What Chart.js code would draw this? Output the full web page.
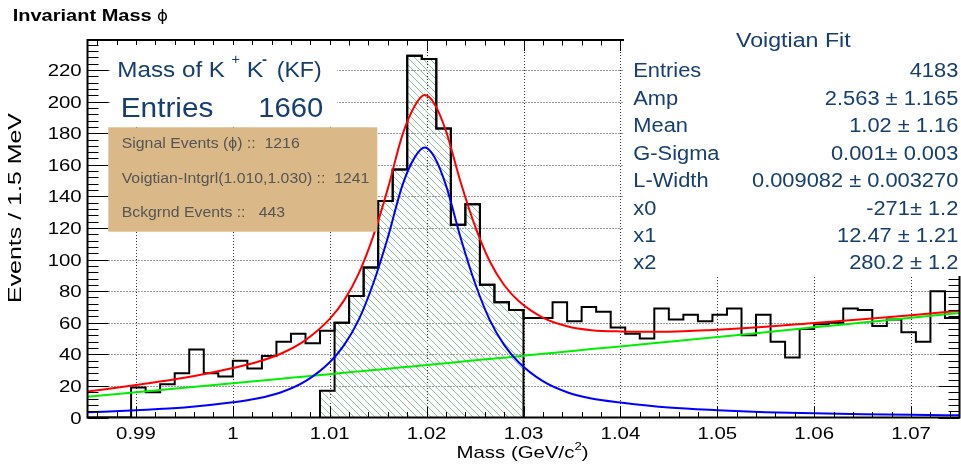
<!DOCTYPE html>
<html>
<head>
<meta charset="utf-8">
<script src="https://cdn.jsdelivr.net/npm/chart.js@4.4.1/dist/chart.umd.min.js"></script>
<style>
  html, body { margin: 0; padding: 0; background: #fff; }
</style>
</head>
<body>
<canvas id="canvas" width="961" height="464"></canvas>
<script>
// histogram, 60 bins of 1.5 MeV between 0.985 and 1.075 GeV
const binLow = 0.985;
const binWidth = 0.0015;
const counts = [0, 0, 0, 19, 16, 21, 28, 43, 28, 26,
  36, 31, 39, 48, 53, 47, 55, 60, 77, 95,
  137, 157, 229, 227, 183, 122, 135, 84, 73, 68,
  63, 63, 73, 61, 70, 67, 57, 53, 50, 69,
  62, 65, 61, 65, 69, 52, 65, 48, 38, 56,
  59, 60, 69, 68, 58, 62, 54, 48, 80, 63];

// hatched signal window 1.010 - 1.030 (first bin only partly inside)
const sigLow = 1.009;
const sigCounts = [17, 60, 77, 95, 137, 157, 229, 227, 183, 122, 135, 84, 73, 68];

// fit curves
const curveMass = [0.985, 0.99, 0.995, 1.000, 1.0025, 1.005, 1.0075, 1.010, 1.0115, 1.013, 1.0145,
  1.016, 1.0175, 1.0188, 1.0198, 1.0208, 1.022, 1.0235, 1.025, 1.0265, 1.028, 1.0295,
  1.032, 1.0345, 1.037, 1.040, 1.045, 1.050, 1.055, 1.060, 1.065, 1.070, 1.075];
const totalFit = [16.4, 20.6, 25.1, 31.3, 35.1, 40.5, 49.0, 62.4, 74.3, 91.2, 115.0,
  144.9, 178.8, 197.5, 204.1, 198.7, 181.4, 149.3, 121.2, 99.1, 83.9, 73.8,
  63.3, 57.8, 55.3, 54.5, 54.3, 55.6, 57.4, 59.8, 62.2, 64.8, 67.6];
const signalFit = [3.3, 4.6, 6.3, 9.6, 12, 16, 23, 35, 46, 62, 85,
  114, 147, 165, 171, 165, 147, 114, 85, 62, 46, 35,
  23, 16, 12, 9.5, 6.3, 4.6, 3.4, 2.7, 2.1, 1.7, 1.4];
const bkgFit = [13.1, 16.0, 18.8, 21.7, 23.1, 24.5, 26.0, 27.4, 28.3, 29.2, 30.0,
  30.9, 31.8, 32.5, 33.1, 33.7, 34.4, 35.3, 36.2, 37.1, 37.9, 38.8,
  40.3, 41.8, 43.3, 45.0, 48.0, 51.0, 54.0, 57.1, 60.1, 63.1, 66.2];

const xTicks = [0.99, 1.00, 1.01, 1.02, 1.03, 1.04, 1.05, 1.06, 1.07];
const xTickLabels = ["0.99", "1", "1.01", "1.02", "1.03", "1.04", "1.05", "1.06", "1.07"];
const yTicks = [0, 20, 40, 60, 80, 100, 120, 140, 160, 180, 200, 220];

const fitNames = ["Entries", "Amp", "Mean", "G-Sigma", "L-Width", "x0", "x1", "x2"];
const fitValues = ["4183", "2.563 \u00b1 1.165", "1.02 \u00b1 1.16", "0.001\u00b1 0.003",
  "0.009082 \u00b1 0.003270", "-271\u00b1 1.2", "12.47 \u00b1 1.21", "280.2 \u00b1 1.2"];
const boxLines = ["Signal Events (\u03d5) ::  1216", "Voigtian-Intgrl(1.010,1.030) ::  1241", "Bckgrnd Events ::   443"];

function histPoints(low, w, arr) {
  let pts = arr.map((v, i) => ({ x: low + i * w, y: v }));
  pts.push({ x: low + arr.length * w, y: arr[arr.length - 1] });
  return pts;
}
function curve(ys) {
  return curveMass.map((m, i) => ({ x: m, y: ys[i] }));
}

const canvas = document.getElementById('canvas');
const c2 = canvas.getContext('2d');

function hatch() {
  let t = document.createElement('canvas');
  t.width = 7; t.height = 7;
  let g = t.getContext('2d');
  g.strokeStyle = '#86c4a2';
  g.lineWidth = 1;
  g.beginPath();
  g.moveTo(-1, -1); g.lineTo(8, 8);
  g.moveTo(-1, 6); g.lineTo(1, 8);
  g.moveTo(6, -1); g.lineTo(8, 1);
  g.stroke();
  return c2.createPattern(t, 'repeat');
}

let sigPts = [{ x: sigLow, y: 0 }].concat(histPoints(sigLow, binWidth, sigCounts));
sigPts.push({ x: sigLow + sigCounts.length * binWidth, y: 0 });

const FONT = '"Liberation Sans", Arial, sans-serif';
const NAVY = '#163e6e';

// draw text scaled horizontally (to a given width or factor)
function txt(c, s, x, y, font, color, align, width, sx) {
  c.save();
  c.font = font;
  let w = c.measureText(s).width;
  let k = width ? width / w : (sx || 1);
  let x0 = x;
  if (align === 'center') x0 = x - w * k / 2;
  if (align === 'right') x0 = x - w * k;
  c.translate(x0, y);
  c.scale(k, 1);
  c.fillStyle = color;
  c.textAlign = 'left';
  c.textBaseline = 'alphabetic';
  c.fillText(s, 0, 0);
  c.restore();
}

const rootDecor = {
  id: 'rootDecor',
  beforeDatasetsDraw(chart) {
    const c = chart.ctx, a = chart.chartArea;
    const xs = chart.scales.x, ys = chart.scales.y;
    c.save();
    c.strokeStyle = '#333';
    c.lineWidth = 1;
    c.setLineDash([1, 2]);
    xTicks.forEach(v => {
      let px = Math.round(xs.getPixelForValue(v)) + 0.5;
      c.beginPath(); c.moveTo(px, a.top); c.lineTo(px, a.bottom); c.stroke();
    });
    yTicks.forEach(v => {
      if (v === 0) return;
      let py = Math.round(ys.getPixelForValue(v)) + 0.5;
      c.beginPath(); c.moveTo(a.left, py); c.lineTo(a.right, py); c.stroke();
    });
    c.restore();
  },
  afterDatasetsDraw(chart) {
    const c = chart.ctx, a = chart.chartArea;
    const xs = chart.scales.x, ys = chart.scales.y;
    c.save();
    c.strokeStyle = '#000';
    c.lineWidth = 1;
    c.beginPath();
    // x ticks, major every 0.01 and minor every 0.002
    for (let i = 0; i <= 44; i++) {
      let v = 0.986 + i * 0.002;
      let px = Math.round(xs.getPixelForValue(v)) + 0.5;
      let major = Math.abs((v - 0.99) / 0.01 - Math.round((v - 0.99) / 0.01)) < 1e-6;
      let len = major ? 11 : 5.5;
      c.moveTo(px, a.bottom); c.lineTo(px, a.bottom - len);
      c.moveTo(px, a.top); c.lineTo(px, a.top + len);
    }
    for (let v = 0; v <= 236; v += 4) {
      let py = Math.round(ys.getPixelForValue(v)) + 0.5;
      let len = v % 20 === 0 ? 21 : 11;
      c.moveTo(a.left, py); c.lineTo(a.left + len, py);
      c.moveTo(a.right, py); c.lineTo(a.right - len, py);
    }
    c.stroke();
    c.lineWidth = 2;
    c.strokeRect(a.left, a.top, a.right - a.left, a.bottom - a.top);
    c.restore();
  },
  afterDraw(chart) {
    const c = chart.ctx, a = chart.chartArea;
    const xs = chart.scales.x, ys = chart.scales.y;
    c.save();
    // boxes
    c.fillStyle = '#fff';
    c.fillRect(110, 45, 227, 81);
    c.fillRect(624, 0, 337, 276);
    c.fillStyle = '#dab887';
    c.fillRect(108.3, 127.3, 269, 104.4);

    // title
    txt(c, 'Invariant Mass', 12.7, 20.7, 'bold 16px ' + FONT, '#000', 'left', 139);
    txt(c, '\u03d5', 157, 21, '16px "DejaVu Sans", sans-serif', '#000', 'left', 11);

    // left legend
    txt(c, 'Mass of K', 117.3, 76.7, '22px ' + FONT, NAVY, 'left', 107.7);
    txt(c, '+', 231.5, 64, '14px ' + FONT, NAVY, 'left', 8.5);
    txt(c, 'K', 246.7, 76.7, '22px ' + FONT, NAVY, 'left', 16.6);
    txt(c, '-', 262, 64, 'bold 15px ' + FONT, NAVY, 'left', 5);
    txt(c, '(KF)', 276.7, 76.7, '22px ' + FONT, NAVY, 'left', 45);
    txt(c, 'Entries', 120.7, 117.3, '28px ' + FONT, NAVY, 'left', 92.7);
    txt(c, '1660', 323.3, 117.3, '28px ' + FONT, NAVY, 'right', 65);

    const boxW = [178, 247.6, 163.3];
    boxLines.forEach((s, i) => {
      txt(c, s, 121.7, 148.3 + i * 34.5, '15px ' + FONT, '#555', 'left', boxW[i]);
    });

    // fit stats
    txt(c, 'Voigtian Fit', 793.3, 46.7, '19.5px ' + FONT, NAVY, 'center', 114.7);
    fitNames.forEach((s, i) => {
      let by = 77.3 + i * 27.45;
      txt(c, s, 633.3, by, '19.5px ' + FONT, NAVY, 'left', null, 1.12);
      txt(c, fitValues[i], 958.3, by, '19.5px ' + FONT, NAVY, 'right', null, 1.12);
    });

    // tick labels
    xTicks.forEach((v, i) => {
      txt(c, xTickLabels[i], xs.getPixelForValue(v), 439, '17px ' + FONT, '#000', 'center', null, 1.2);
    });
    yTicks.forEach(v => {
      txt(c, String(v), 81.7, ys.getPixelForValue(v) + 6, '17px ' + FONT, '#000', 'right', null, 1.2);
    });

    // axis titles
    c.font = '17px ' + FONT;
    let w1 = c.measureText('Mass (GeV/c').width;
    c.font = '11px ' + FONT;
    let w2 = c.measureText('2').width;
    c.font = '17px ' + FONT;
    let w3 = c.measureText(')').width;
    let k = 1.2, tot = (w1 + w2 + w3) * k, x0 = 522.5 - tot / 2;
    txt(c, 'Mass (GeV/c', x0, 458, '17px ' + FONT, '#000', 'left', null, k);
    txt(c, '2', x0 + w1 * k, 450, '11px ' + FONT, '#000', 'left', null, k);
    txt(c, ')', x0 + (w1 + w2) * k, 458, '17px ' + FONT, '#000', 'left', null, k);

    c.translate(21, 208);
    c.rotate(-Math.PI / 2);
    c.font = '18px ' + FONT;
    let wy = c.measureText('Events / 1.5 MeV').width;
    c.scale(190 / wy, 1);
    c.fillStyle = '#000';
    c.textAlign = 'center';
    c.textBaseline = 'alphabetic';
    c.fillText('Events / 1.5 MeV', 0, 0);
    c.restore();
  }
};

const myChart = new Chart(canvas, {
  type: 'line',
  data: {
    datasets: [
      {
        label: 'Total fit',
        data: curve(totalFit),
        borderColor: '#ff0000',
        borderWidth: 2,
        pointRadius: 0,
        cubicInterpolationMode: 'monotone',
        fill: false
      },
      {
        label: 'Voigtian',
        data: curve(signalFit),
        borderColor: '#0000ff',
        borderWidth: 2,
        pointRadius: 0,
        cubicInterpolationMode: 'monotone',
        fill: false
      },
      {
        label: 'Background',
        data: curve(bkgFit),
        borderColor: '#00ee00',
        borderWidth: 2,
        pointRadius: 0,
        cubicInterpolationMode: 'monotone',
        fill: false
      },
      {
        label: 'Mass',
        data: histPoints(binLow, binWidth, counts),
        stepped: 'before',
        borderColor: '#000',
        borderWidth: 2,
        pointRadius: 0,
        fill: false
      },
      {
        label: 'Signal window',
        data: sigPts,
        stepped: 'before',
        borderColor: '#000',
        borderWidth: 2,
        pointRadius: 0,
        fill: 'origin',
        backgroundColor: hatch()
      }
    ]
  },
  options: {
    responsive: false,
    animation: false,
    devicePixelRatio: 1,
    layout: { padding: { left: 0, top: 40, right: 1.5, bottom: 0 } },
    plugins: { legend: { display: false }, tooltip: { enabled: false } },
    scales: {
      x: {
        type: 'linear',
        min: 0.985,
        max: 1.075,
        grid: { display: false },
        border: { display: false },
        ticks: { display: false },
        afterFit: s => { s.height = 46.5; }
      },
      y: {
        type: 'linear',
        min: 0,
        max: 239,
        grid: { display: false },
        border: { display: false },
        ticks: { display: false },
        afterFit: s => { s.width = 87.5; }
      }
    }
  },
  plugins: [rootDecor]
});
</script>
</body>
</html>
